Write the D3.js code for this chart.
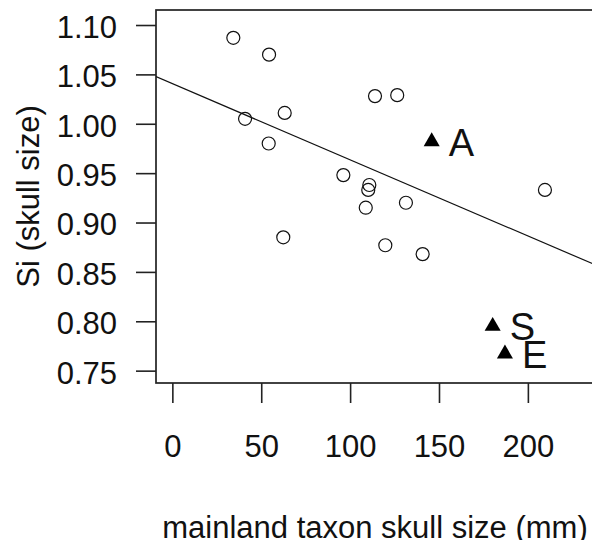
<!DOCTYPE html>
<html>
<head>
<meta charset="utf-8">
<script src="https://cdn.jsdelivr.net/npm/d3@7"></script>
<style>
  body { margin: 0; background: #fff; }
  svg { display: block; font-family: "Liberation Sans", Arial, sans-serif; }
</style>
</head>
<body>
<div id="chart"></div>
<script>
// mainland taxa (open circles)
const mainlandSize = [34.3, 54.4, 40.9, 63.2, 54.2, 114.0, 126.5, 96.2, 110.8, 110.2, 209.6, 131.4, 108.8, 119.8, 140.8, 62.4];
const siValues     = [1.087, 1.070, 1.005, 1.011, 0.980, 1.028, 1.029, 0.948, 0.938, 0.933, 0.933, 0.920, 0.915, 0.877, 0.868, 0.885];

// labelled taxa (filled triangles)
const islandLabels = ["A", "S", "E"];
const islandSize   = [145.9, 180.2, 187.1];
const islandSi     = [0.982, 0.795, 0.767];

// fitted line
const fitIntercept = 1.0406;
const fitSlope = -0.000771;

const xTicks = [0, 50, 100, 150, 200];
const yTicks = [0.75, 0.80, 0.85, 0.90, 0.95, 1.00, 1.05, 1.10];

const W = 592, H = 540;
const plot = { left: 156, top: 10, right: 594, bottom: 383 };

const svg = d3.select("#chart")
    .append("svg")
    .attr("width", W)
    .attr("height", H);

const x = d3.scaleLinear().domain([-9.2, 237.2]).range([plot.left, plot.right]);
const y = d3.scaleLinear().domain([0.7375, 1.1152]).range([plot.bottom, plot.top]);

svg.append("clipPath").attr("id", "clip")
    .append("rect")
    .attr("x", plot.left).attr("y", plot.top)
    .attr("width", plot.right - plot.left).attr("height", plot.bottom - plot.top);

// y axis
const yAxis = svg.append("g")
    .attr("transform", `translate(${plot.left},0)`)
    .call(d3.axisLeft(y).tickValues(yTicks).tickFormat(d3.format(".2f")).tickSize(20).tickPadding(19));
yAxis.select(".domain").remove();
yAxis.selectAll("line").attr("stroke", "#222").attr("stroke-width", 1.6);
yAxis.selectAll("text").attr("dy", "0.4em").style("font-size", "31px").attr("fill", "#111");

// x axis
const xAxis = svg.append("g")
    .attr("transform", `translate(0,${plot.bottom})`)
    .call(d3.axisBottom(x).tickValues(xTicks).tickSize(20).tickPadding(32));
xAxis.select(".domain").remove();
xAxis.selectAll("line").attr("stroke", "#222").attr("stroke-width", 1.6);
xAxis.selectAll("text").style("font-size", "31px").attr("fill", "#111");

// box
svg.append("rect")
    .attr("x", plot.left).attr("y", plot.top)
    .attr("width", plot.right - plot.left).attr("height", plot.bottom - plot.top)
    .attr("fill", "none").attr("stroke", "#222").attr("stroke-width", 1.7);

// axis titles
svg.append("text")
    .attr("transform", "rotate(-90)")
    .attr("x", -(plot.top + plot.bottom) / 2)
    .attr("y", 39)
    .attr("text-anchor", "middle")
    .style("font-size", "31px")
    .attr("fill", "#111")
    .text("Si (skull size)");

svg.append("text")
    .attr("x", (plot.left + plot.right) / 2)
    .attr("y", 538)
    .attr("text-anchor", "middle")
    .style("font-size", "31px")
    .attr("fill", "#111")
    .text("mainland taxon skull size (mm)");

// fitted line
const xd = x.domain();
svg.append("line")
    .attr("clip-path", "url(#clip)")
    .attr("x1", x(xd[0])).attr("y1", y(fitIntercept + fitSlope * xd[0]))
    .attr("x2", x(xd[1])).attr("y2", y(fitIntercept + fitSlope * xd[1]))
    .attr("stroke", "#111").attr("stroke-width", 1.2);

// mainland points
svg.selectAll("circle.pt")
    .data(mainlandSize)
    .enter()
    .append("circle")
    .attr("class", "pt")
    .attr("cx", d => x(d))
    .attr("cy", (d, i) => y(siValues[i]))
    .attr("r", 6.5)
    .attr("fill", "none")
    .attr("stroke", "#111")
    .attr("stroke-width", 1.2);

// island points
const tri = d3.symbol(d3.symbolTriangle, 112);
svg.selectAll("path.tri")
    .data(islandSize)
    .enter()
    .append("path")
    .attr("class", "tri")
    .attr("d", tri)
    .attr("transform", (d, i) => `translate(${x(d)},${y(islandSi[i])})`)
    .attr("fill", "#000");

svg.selectAll("text.lab")
    .data(islandLabels)
    .enter()
    .append("text")
    .attr("class", "lab")
    .attr("x", (d, i) => x(islandSize[i]) + 17)
    .attr("y", (d, i) => y(islandSi[i]) + 14)
    .style("font-size", "38px")
    .attr("fill", "#111")
    .text(d => d);
</script>
</body>
</html>
